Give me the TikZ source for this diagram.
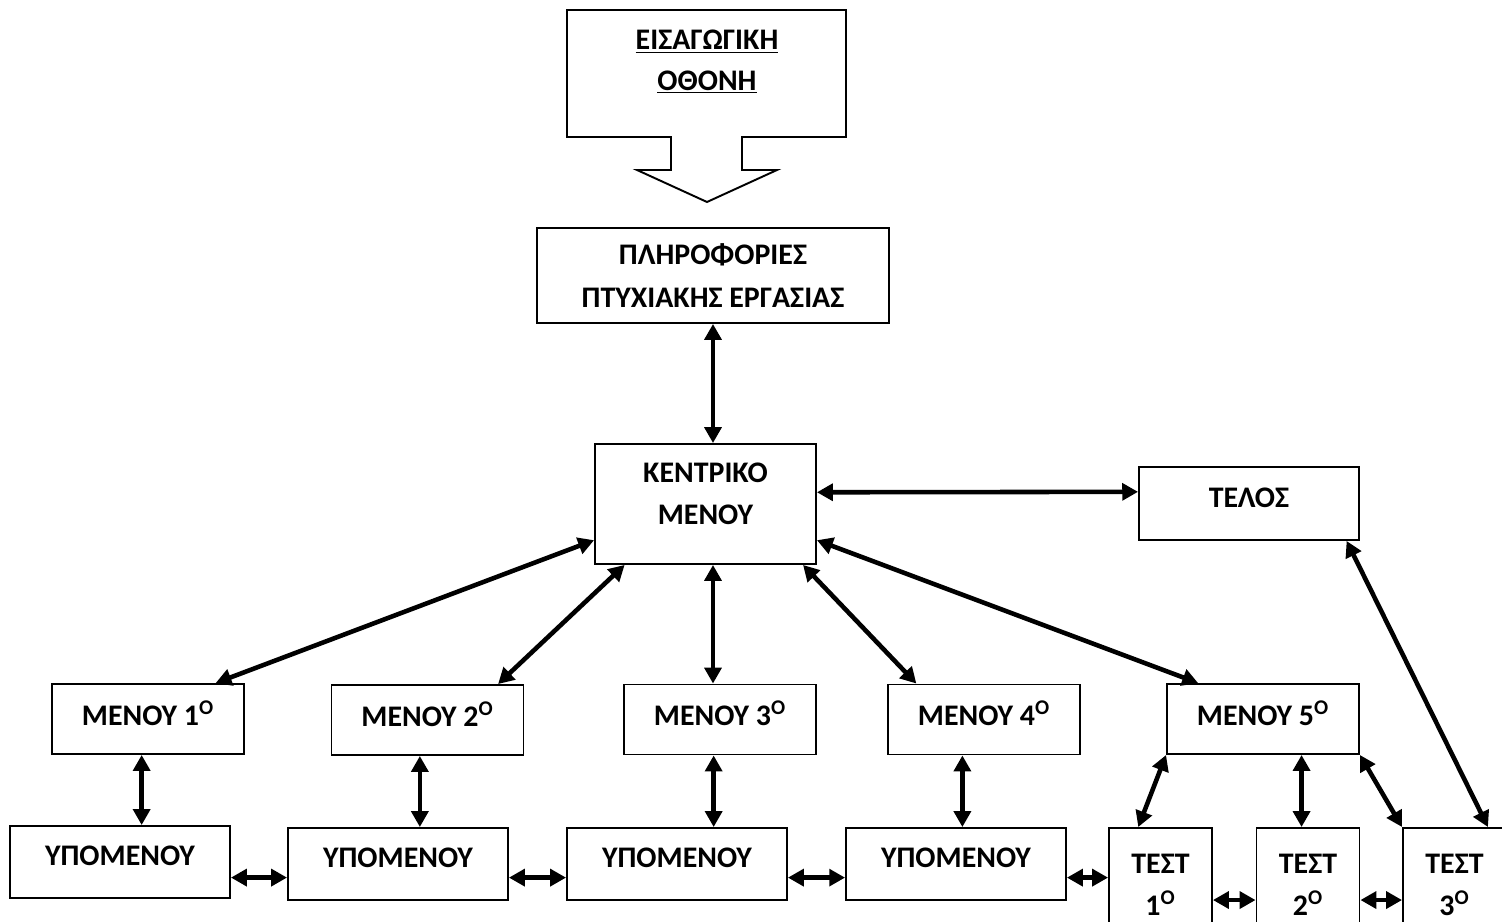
\documentclass[tikz,border=0pt]{standalone}
\usepackage{fontspec}
\setmainfont{Carlito}
\usetikzlibrary{arrows.meta}
\tikzset{
  box/.style={draw,line width=1.1pt,align=center,inner sep=0pt,text depth=0.24cm,
    font=\bfseries\fontsize{17}{24}\selectfont},
  menubox/.style={box,minimum width=3.84cm,minimum height=1.40cm},
  subbox/.style={box,minimum width=4.40cm,minimum height=1.44cm},
  testbox/.style={box,minimum width=2.06cm,minimum height=2.28cm,text depth=0pt},
  link/.style={{Triangle[length=9pt,width=9.5pt]}-{Triangle[length=9pt,width=9.5pt]},line width=2.6pt},
}
\begin{document}
\begin{tikzpicture}[x=0.02cm,y=-0.02cm]
\useasboundingbox (0,0) rectangle (1502,922);
\clip (0,0) rectangle (1502,922);
% intro screen with its arrow
\draw[line width=1.1pt] (567,10) -- (846,10) -- (846,137) -- (742,137) -- (742,170) -- (777,170)
  -- (707,202) -- (637,170) -- (671,170) -- (671,137) -- (567,137) -- cycle;
\node[align=center,font=\bfseries\fontsize{17}{23}\selectfont] (intro) at (707,62) {\underline{ΕΙΣΑΓΩΓΙΚΗ}\\\underline{ΟΘΟΝΗ}};
\node[box,minimum width=7.04cm,minimum height=1.90cm,text depth=0pt] (plir) at (713,275.5) {ΠΛΗΡΟΦΟΡΙΕΣ\\ΠΤΥΧΙΑΚΗΣ ΕΡΓΑΣΙΑΣ};
\node[box,minimum width=4.42cm,minimum height=2.40cm,text depth=0.4cm] (kentriko) at (705.5,504) {ΚΕΝΤΡΙΚΟ\\ΜΕΝΟΥ};
\node[box,minimum width=4.40cm,minimum height=1.46cm] (telos) at (1249,503.5) {ΤΕΛΟΣ};
% menus
\node[menubox] (menu1) at (148,719) {ΜΕΝΟΥ 1\textsuperscript{Ο}};
\node[menubox] (menu2) at (427.5,720) {ΜΕΝΟΥ 2\textsuperscript{Ο}};
\node[menubox] (menu3) at (720,719.5) {ΜΕΝΟΥ 3\textsuperscript{Ο}};
\node[menubox] (menu4) at (984,719.5) {ΜΕΝΟΥ 4\textsuperscript{Ο}};
\node[menubox] (menu5) at (1263,719) {ΜΕΝΟΥ 5\textsuperscript{Ο}};
% submenus and tests
\node[subbox] (ypo1) at (120,862) {ΥΠΟΜΕΝΟΥ};
\node[subbox] (ypo2) at (398,864) {ΥΠΟΜΕΝΟΥ};
\node[subbox] (ypo3) at (677,864) {ΥΠΟΜΕΝΟΥ};
\node[subbox] (ypo4) at (956,864) {ΥΠΟΜΕΝΟΥ};
\node[testbox] (test1) at (1160.5,885) {ΤΕΣΤ\\1\textsuperscript{Ο}};
\node[testbox] (test2) at (1308,885) {ΤΕΣΤ\\2\textsuperscript{Ο}};
\node[testbox] (test3) at (1454.5,885) {ΤΕΣΤ\\3\textsuperscript{Ο}};
% links
\draw[link] (plir.south) -- (plir.south |- kentriko.north);
\draw[link] (kentriko.6) -- (telos.174);
\draw[link] (kentriko.198) -- (menu1.28);
\draw[link] (kentriko.217) -- (menu2.27);
\draw[link] (kentriko.south -| plir.south) -- (menu3.north -| plir.south);
\draw[link] (kentriko.-32) -- (menu4.152);
\draw[link] (kentriko.-18) -- (menu5.151);
\draw[link] (menu1.-100) -- (menu1.-100 |- ypo1.north);
\draw[link] (menu2.-102) -- (menu2.-102 |- ypo2.north);
\draw[link] (menu3.-100) -- (menu3.-100 |- ypo3.north);
\draw[link] (menu4.-121) -- (menu4.-121 |- ypo4.north);
\draw[link] (ypo1.-8) -- (ypo1.-8 -| ypo2.west);
\draw[link] (ypo2.-7) -- (ypo2.-7 -| ypo3.west);
\draw[link] (ypo3.-7) -- (ypo3.-7 -| ypo4.west);
\draw[link] (ypo4.-7) -- (ypo4.-7 -| test1.west);
\draw[link] (menu5.south west) -- (test1.111);
\draw[link] (menu5.-43) -- (menu5.-43 |- test2.north);
\draw[link] (menu5.south east) -- (test3.north west);
\draw[link] (telos.-21) -- (test3.60);
\draw[link] (test1.-16) -- (test1.-16 -| test2.west);
\draw[link] (test2.-16) -- (test2.-16 -| test3.west);
\end{tikzpicture}
\end{document}
